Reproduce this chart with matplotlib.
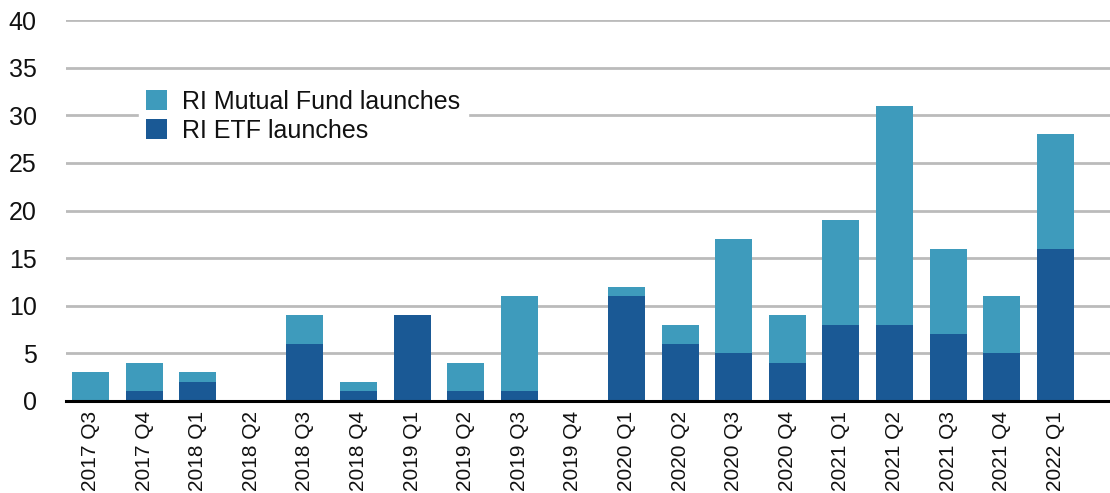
import numpy as np
import matplotlib.pyplot as plt

quarters = ['2017 Q3', '2017 Q4', '2018 Q1', '2018 Q2', '2018 Q3', '2018 Q4',
            '2019 Q1', '2019 Q2', '2019 Q3', '2019 Q4', '2020 Q1', '2020 Q2',
            '2020 Q3', '2020 Q4', '2021 Q1', '2021 Q2', '2021 Q3', '2021 Q4',
            '2022 Q1']
etf_launches = [0, 1, 2, 0, 6, 1, 9, 1, 1, 0, 11, 6, 5, 4, 8, 8, 7, 5, 16]
mf_launches = [3, 3, 1, 0, 3, 1, 0, 3, 10, 0, 1, 2, 12, 5, 11, 23, 9, 6, 12]

plt.rcParams['font.family'] = ['Liberation Sans', 'DejaVu Sans']

fig = plt.figure(figsize=(11.1, 4.93), dpi=100)
ax = fig.add_axes([66 / 1110, 92 / 493, 1 - 66 / 1110, 381 / 493])

x = np.arange(len(quarters))
mf_bars = ax.bar(x, mf_launches, width=0.69, bottom=etf_launches,
                 color='#3e9bbc', label='RI Mutual Fund launches', zorder=3)
etf_bars = ax.bar(x, etf_launches, width=0.69, color='#1a5995',
                  label='RI ETF launches', zorder=3)

ax.set_ylim(0, 40)
ax.set_yticks(range(0, 41, 5))
ax.set_xlim(-0.457, 19.02)
ax.set_xticks(x)
ax.set_xticklabels(quarters, rotation=90)

ax.grid(axis='y', color='#bbbbbb', linewidth=2, zorder=0)
for s in ['top', 'right', 'left']:
    ax.spines[s].set_visible(False)
ax.spines['bottom'].set_linewidth(2.2)
ax.spines['bottom'].set_color('black')
ax.spines['bottom'].set_zorder(4)

ax.tick_params(axis='y', length=0, pad=21, labelsize=18, labelcolor='#111111')
ax.tick_params(axis='x', length=0, pad=7, labelsize=15, labelcolor='#111111')

leg = ax.legend(handles=[mf_bars, etf_bars], loc='upper left',
                bbox_to_anchor=(126 / 1110, 1 - 70 / 493),
                bbox_transform=fig.transFigure, fontsize=18, frameon=True,
                fancybox=False, edgecolor='white', framealpha=1,
                handlelength=0.85, handleheight=0.85, handletextpad=0.6,
                labelspacing=0.2, borderpad=0.3)
for t in leg.get_texts():
    t.set_color('#111111')
leg.set_zorder(5)

fig.savefig('out.png', dpi=100)
